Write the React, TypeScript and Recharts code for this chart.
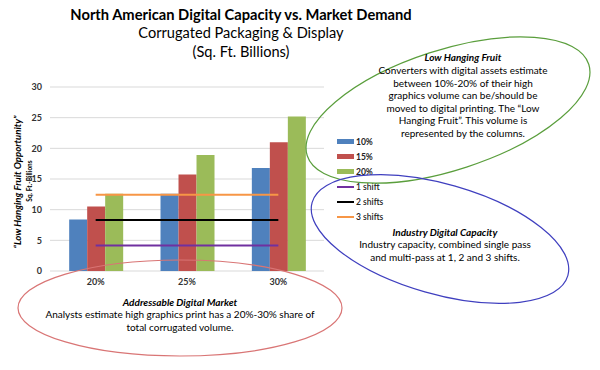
import React from "react";
import { ComposedChart, Bar, Line, XAxis, YAxis, CartesianGrid } from "recharts";

const categories = ["20%", "25%", "30%"];
const share10 = [8.4, 12.6, 16.8];
const share15 = [10.5, 15.75, 21.0];
const share20 = [12.6, 18.9, 25.2];
const shift1 = [4.15, 4.15, 4.15];
const shift2 = [8.3, 8.3, 8.3];
const shift3 = [12.45, 12.45, 12.45];
const yTicks = [0, 5, 10, 15, 20, 25, 30];

const data = categories.map((c, i) => ({
  cat: c,
  s10: share10[i], s15: share15[i], s20: share20[i],
  sh1: shift1[i], sh2: shift2[i], sh3: shift3[i],
}));

const bars = [
  { key: "s10", name: "10%", color: "#4F81BD" },
  { key: "s15", name: "15%", color: "#C0504D" },
  { key: "s20", name: "20%", color: "#9BBB59" },
];
const lines = [
  { key: "sh1", name: "1 shift", color: "#7030A0" },
  { key: "sh2", name: "2 shifts", color: "#000000" },
  { key: "sh3", name: "3 shifts", color: "#F79646" },
];

const FONT = "Lato, 'Open Sans', sans-serif";
const tick = { fill: "#333", fontSize: 9, fontWeight: 700, fontFamily: FONT };

export default function App() {
  return (
    <div style={{ position: "absolute", left: 0, top: 0, width: 600, height: 370, background: "#fff", fontFamily: FONT }}>
      <ComposedChart
        width={600} height={370} data={data}
        margin={{ top: 87, right: 276, bottom: 0, left: 0 }}
        barCategoryGap="21%" barGap={0}
      >
        <CartesianGrid vertical={false} stroke="#D9D9D9" />
        <XAxis dataKey="cat" axisLine={false} tickLine={false} tick={tick} height={99} />
        <YAxis domain={[0, 30]} ticks={yTicks} axisLine={false} tickLine={false} tick={tick} width={50} />
        {bars.map((b) => (
          <Bar key={b.key} dataKey={b.key} name={b.name} fill={b.color} isAnimationActive={false} />
        ))}
        {lines.map((l) => (
          <Line key={l.key} dataKey={l.key} name={l.name} stroke={l.color} strokeWidth={2}
            dot={false} type="linear" isAnimationActive={false} />
        ))}
      </ComposedChart>

      {/* legend */}
      <div style={{ position: "absolute", left: 337, top: 134, fontSize: 8.5, color: "#222" }}>
        {bars.map((b) => (
          <div key={b.key} style={{ display: "flex", alignItems: "center", height: 15 }}>
            <span style={{ width: 17, height: 5, background: b.color, marginRight: 2 }} />
            <span style={{ fontWeight: 700 }}>{b.name}</span>
          </div>
        ))}
        {lines.map((l) => (
          <div key={l.key} style={{ display: "flex", alignItems: "center", height: 15 }}>
            <span style={{ width: 17, height: 2, background: l.color, marginRight: 2 }} />
            <span style={{ fontWeight: 600 }}>{l.name}</span>
          </div>
        ))}
      </div>

      <svg width={600} height={370} style={{ position: "absolute", left: 0, top: 0, pointerEvents: "none" }}
        fontFamily={FONT} textAnchor="middle">
        <text x={241} y={20} fontSize={14.7} fontWeight={700} fill="#000">North American Digital Capacity vs. Market Demand</text>
        <text x={241} y={38} fontSize={14.6} fill="#000">Corrugated Packaging &amp; Display</text>
        <text x={241} y={57} fontSize={14.6} fill="#000">(Sq. Ft. Billions)</text>

        <text transform="translate(21,182) rotate(-90)" fontSize={9.6} fontWeight={700} fontStyle="italic" fill="#000">
          “Low Hanging Fruit Opportunity”
        </text>
        <text transform="translate(32,181) rotate(-90)" fontSize={6.5} fontWeight={700} fill="#000">Sq. Ft.-Billions</text>

        <ellipse cx={448} cy={110} rx={148} ry={60} transform="rotate(-18 448 110)" fill="none" stroke="#5A9E3C" strokeWidth={1.2} />
        <ellipse cx={440} cy={239} rx={133} ry={55} transform="rotate(16 440 239)" fill="none" stroke="#3F3FBF" strokeWidth={1.2} />
        <ellipse cx={180} cy={308} rx={162} ry={48} fill="none" stroke="#D97575" strokeWidth={1.2} />

        <g fontSize={10} fill="#000">
          <text x={463} y={61} fontWeight={700} fontStyle="italic">Low Hanging Fruit</text>
          <text x={463} y={74}>Converters with digital assets estimate</text>
          <text x={463} y={86.5}>between 10%-20% of their high</text>
          <text x={463} y={99}>graphics volume can be/should be</text>
          <text x={463} y={111.5}>moved to digital printing. The “Low</text>
          <text x={463} y={124}>Hanging Fruit”. This volume is</text>
          <text x={463} y={137}>represented by the columns.</text>

          <text x={445} y={236} fontWeight={700} fontStyle="italic">Industry Digital Capacity</text>
          <text x={445} y={248}>Industry capacity, combined single pass</text>
          <text x={445} y={261}>and multi-pass at 1, 2 and 3 shifts.</text>

          <text x={180} y={306} fontWeight={700} fontStyle="italic">Addressable Digital Market</text>
          <text x={180} y={318}>Analysts estimate high graphics print has a 20%-30% share of</text>
          <text x={180} y={331}>total corrugated volume.</text>
        </g>
      </svg>
    </div>
  );
}
